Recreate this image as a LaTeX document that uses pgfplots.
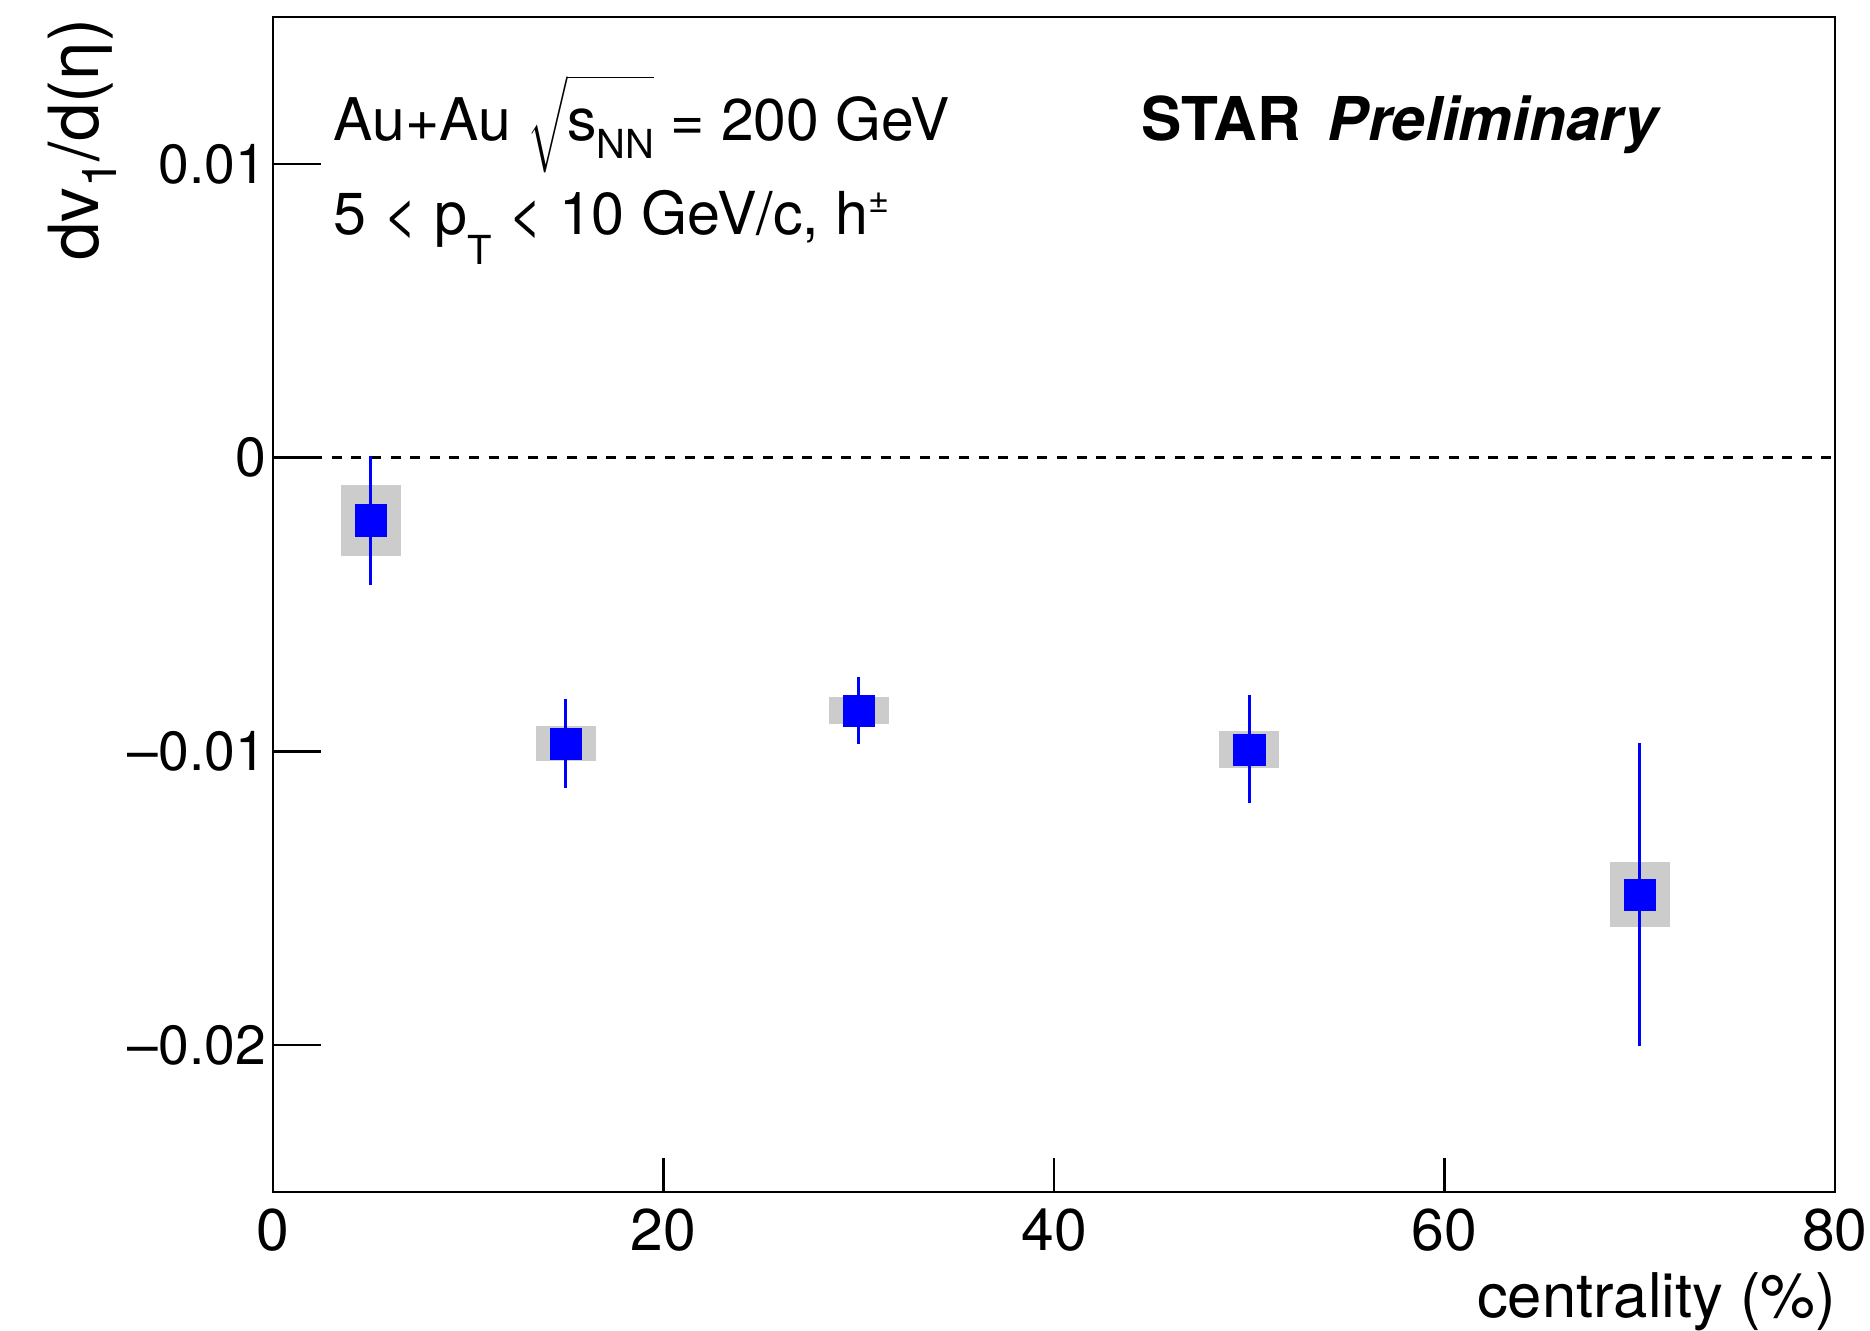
\documentclass[border=0pt]{standalone}
\usepackage{fontspec}
\setmainfont{TeX Gyre Heros}
\usepackage{pgfplots}
\pgfplotsset{compat=1.18}
\usepackage{pgfplotstable}
\definecolor{sysgray}{RGB}{204,204,204}
\definecolor{rootblue}{RGB}{0,0,255}
\newcommand\lowsub[2]{\raisebox{#1}{\fontsize{10}{11}\selectfont #2}}

\pgfplotstableread{
x    y         stat     sys
5   -0.00213   0.00219  0.00121
15  -0.00974   0.00152  0.00060
30  -0.00861   0.00115  0.00045
50  -0.00993   0.00184  0.00062
70  -0.01488   0.00516  0.00110
}\datatable

\begin{document}
\begin{tikzpicture}
\begin{axis}[
  at={(0,0)}, anchor=south west,
  scale only axis,
  width=390.5pt, height=293.75pt,
  xmin=0, xmax=80, ymin=-0.025, ymax=0.015,
  axis line style={line width=0.7pt},
  xtick={0,20,40,60,80},
  ytick={-0.02,-0.01,0,0.01},
  yticklabels={–0.02,–0.01,0,0.01},
  scaled y ticks=false,
  xtick pos=bottom, ytick pos=left,
  tick align=inside,
  minor tick num=0,
  xtick style={line width=0.65pt, black, /pgfplots/major tick length=8.5pt},
  ytick style={line width=0.65pt, black, /pgfplots/major tick length=12pt},
  /pgf/number format/assume math mode=true,
  xticklabel style={font=\fontsize{14.7}{17}\selectfont, inner sep=0pt, anchor=north, yshift=-4pt},
  yticklabel style={font=\fontsize{13.8}{16}\selectfont, inner sep=0pt, anchor=east, xshift=-1.6pt},
  clip=false,
]
% systematic boxes
\addplot[only marks, mark=none, forget plot,
  error bars/.cd, y dir=both, y explicit,
  error mark=none,
  error bar style={draw=sysgray, line width=15pt}]
  table[x=x, y=y, y error=sys] {\datatable};
% zero line
\addplot[black, line width=0.6pt, dash pattern=on 2.5pt off 2.4pt, forget plot]
  coordinates {(0,0) (80,0)};
% statistical errors and markers
\addplot[only marks, mark=square*, mark size=3.9pt,
  mark options={draw=rootblue, fill=rootblue, line width=0.1pt},
  error bars/.cd, y dir=both, y explicit,
  error mark=none,
  error bar style={draw=rootblue, line width=0.75pt}]
  table[x=x, y=y, y error=stat] {\datatable};
\end{axis}
% texts
\node[anchor=base west, inner sep=0pt, font=\fontsize{14.7}{18}\selectfont]
  at (15pt,262.75pt) {Au+Au $\sqrt{\strut\hbox{s\lowsub{-4.4pt}{NN}}}$ = 200 GeV};
\node[anchor=base west, inner sep=0pt, font=\fontsize{14.8}{18}\selectfont]
  at (15pt,239.25pt) {5 < p\lowsub{-7.4pt}{T} < 10 GeV/c, h\raisebox{5.6pt}{\fontsize{9}{10}\selectfont ±}};
\node[anchor=base west, inner sep=0pt, font=\fontsize{15.1}{18}\selectfont]
  at (217pt,262.75pt) {\textbf{STAR}\hspace{0.45em}\textbf{\textit{Preliminary}}};
\node[anchor=base east, inner sep=0pt, rotate=90, font=\fontsize{17.3}{20}\selectfont]
  at (-43.5pt,293.5pt) {dv\raisebox{-4.5pt}{\fontsize{12}{13}\selectfont 1}/d(η)};
\node[anchor=base east, inner sep=0pt, font=\fontsize{15.4}{18}\selectfont]
  at (391pt,-31.25pt) {centrality (\%)};
\pgfresetboundingbox
\path[use as bounding box] (-68.25pt,-34.5pt) rectangle (399.25pt,298pt);
\end{tikzpicture}
\end{document}
